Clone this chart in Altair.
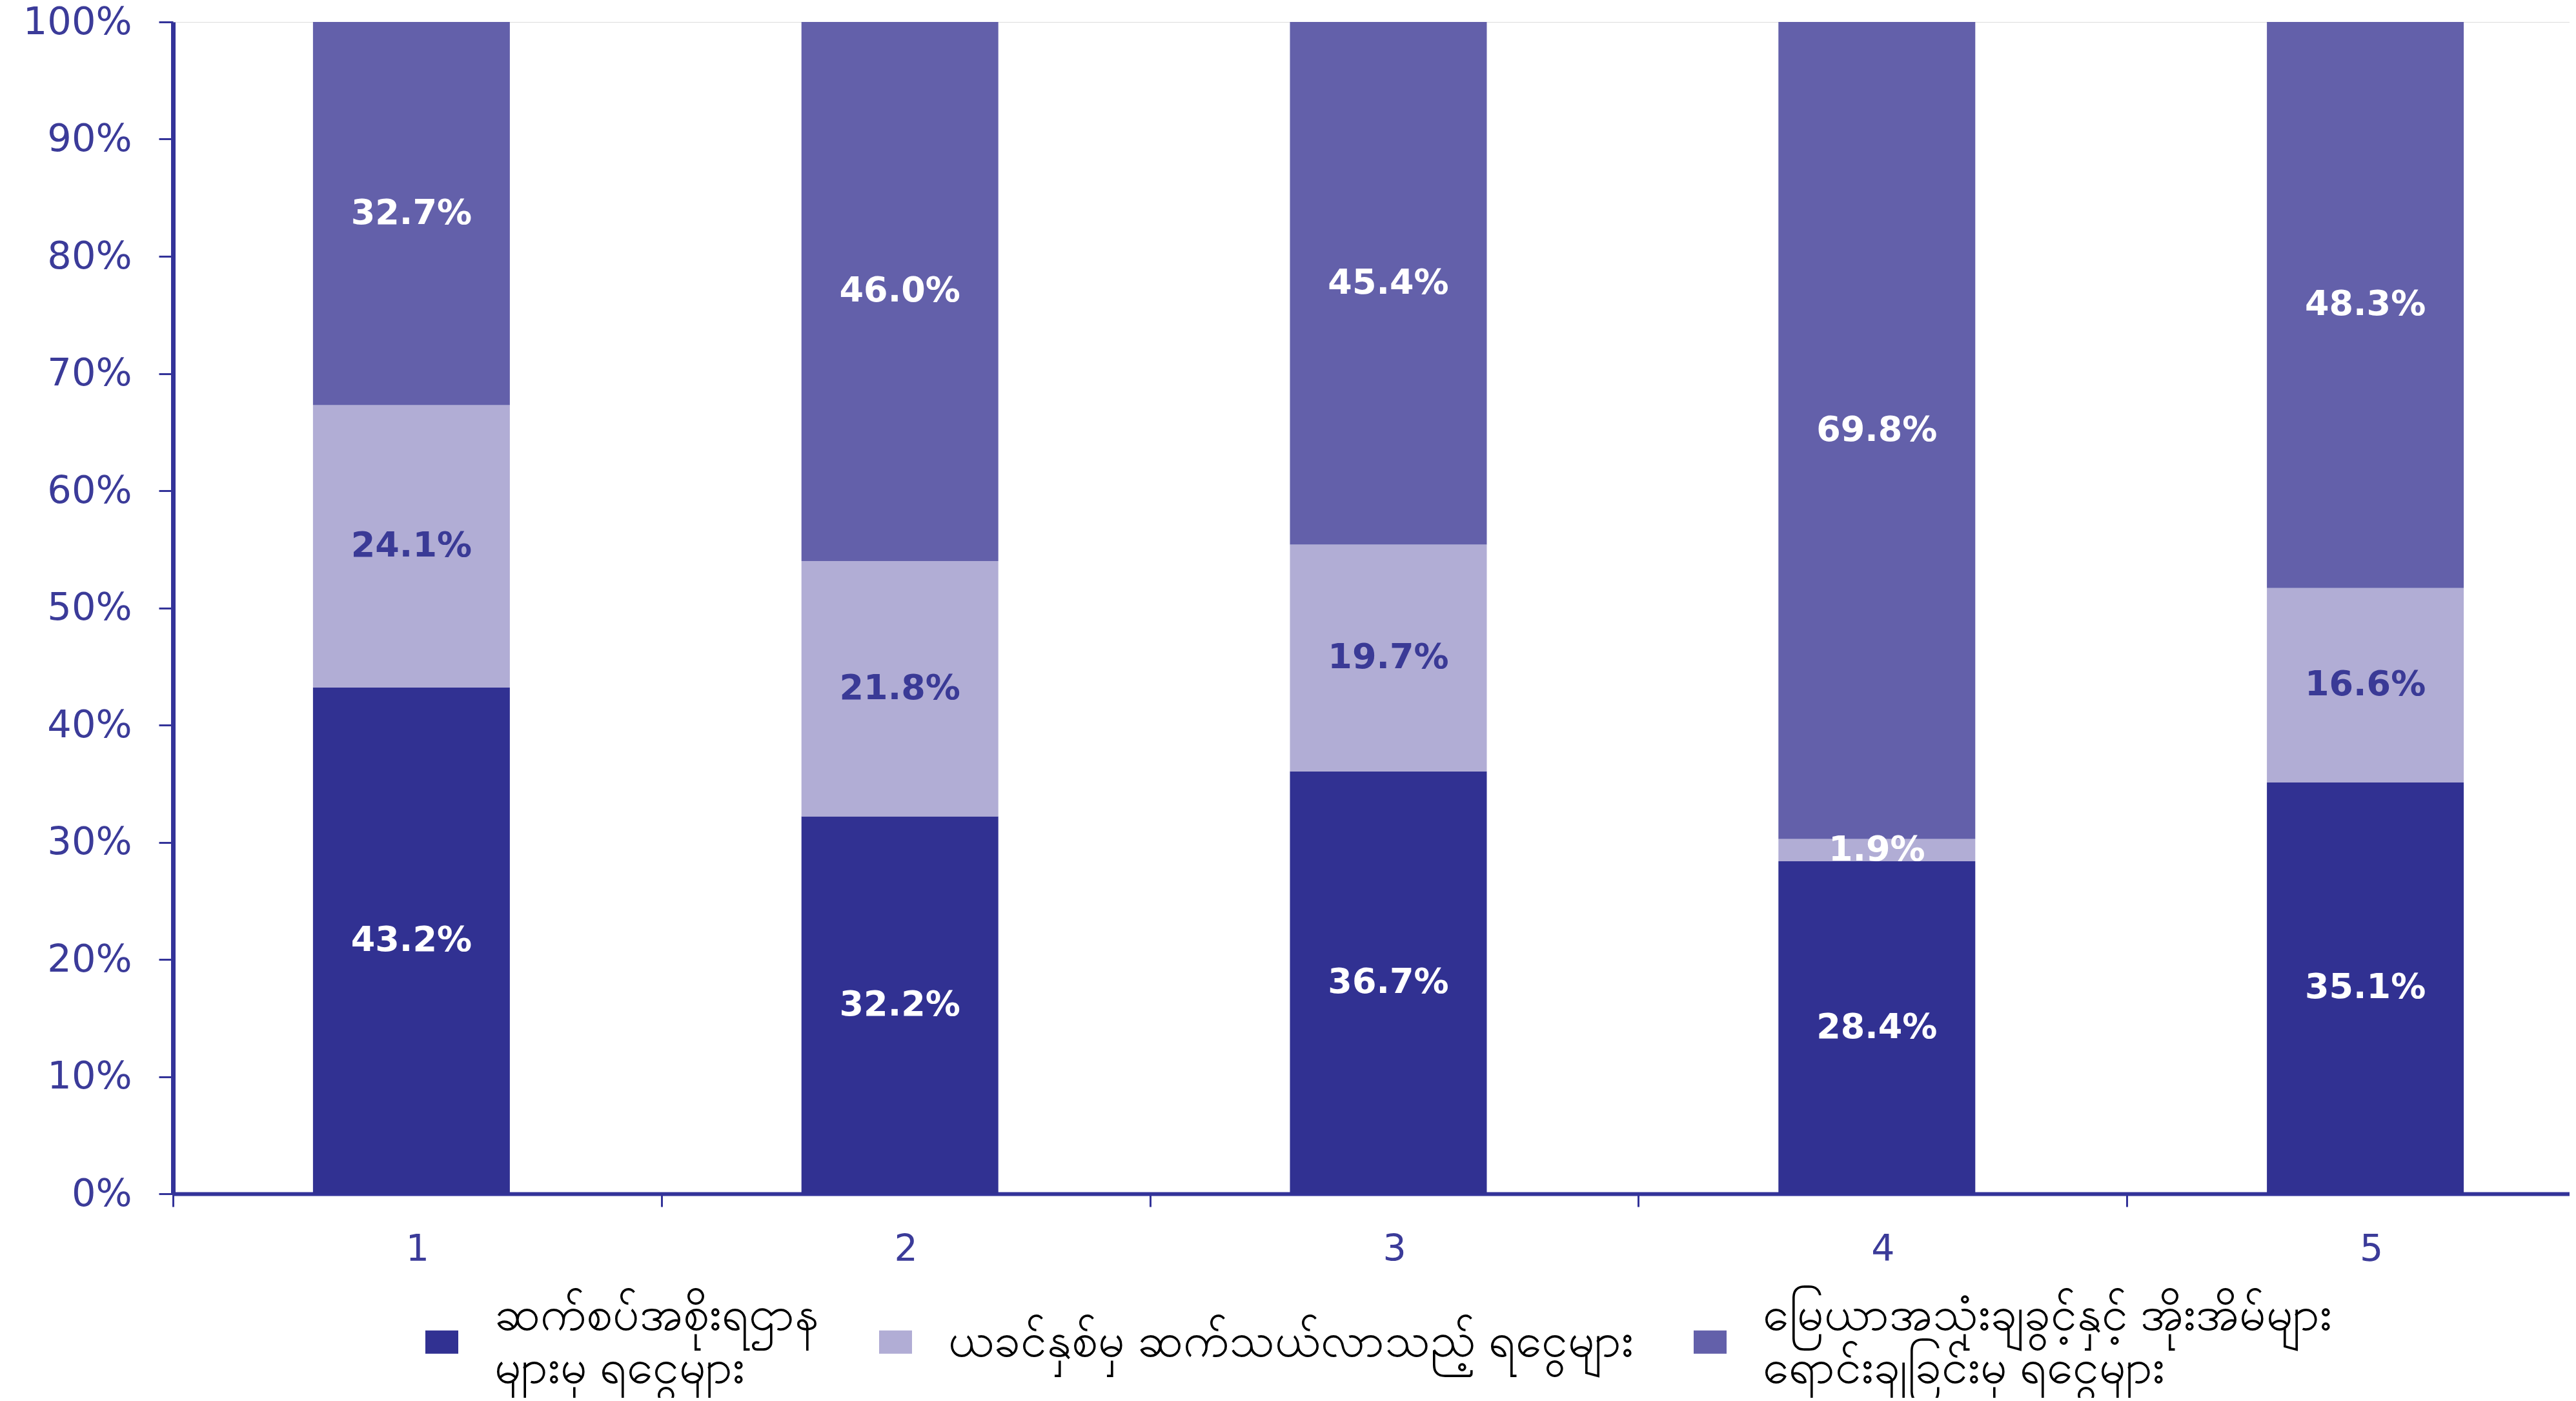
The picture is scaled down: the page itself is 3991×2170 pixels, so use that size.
import altair as alt
import pandas as pd

categories = ["1", "2", "3", "4", "5"]
series_names = [
    "ဆက်စပ်အစိုးရဌာန\nများမှ ရငွေများ",
    "ယခင်နှစ်မှ ဆက်သယ်လာသည့် ရငွေများ",
    "မြေယာအသုံးချခွင့်နှင့် အိုးအိမ်များ\nရောင်းချခြင်းမှ ရငွေများ",
]
govt_dept = [43.2, 32.2, 36.7, 28.4, 35.1]
carried_over = [24.1, 21.8, 19.7, 1.9, 16.6]
land_sales = [32.7, 46.0, 45.4, 69.8, 48.3]
colors = ["#313192", "#B1ADD5", "#6360AA"]

rows = []
series_vals = [govt_dept, carried_over, land_sales]
for ci, cat in enumerate(categories):
    total = sum(s[ci] for s in series_vals)
    cum = 0.0
    for si, s in enumerate(series_vals):
        v = s[ci]
        start = cum / total
        cum += v
        end = cum / total
        rows.append({
            "cat": cat,
            "series": series_names[si],
            "idx": si,
            "value": v,
            "mid": (start + end) / 2,
            "label": f"{v:.1f}%",
        })
df = pd.DataFrame(rows)

x_enc = alt.X(
    "cat:N",
    sort=categories,
    title=None,
    scale=alt.Scale(range=[0, 3784], paddingInner=0, paddingOuter=0),
    axis=alt.Axis(
        tickBand="extent",
        labelAngle=0,
        labelFont="DejaVu Sans",
        labelFontSize=57,
        labelColor="#3B3B99",
        labelPadding=38,
        tickSize=20,
        tickWidth=3,
        tickColor="#333399",
        domainColor="#333399",
        domainWidth=6,
    ),
)

# blank filler line (Braille blank, not stripped by trim)
BL = "\u2800"
label_expr = (
    "length(split(datum.label, '\\n')) > 1 ? "
    f"[split(datum.label, '\\n')[0], '{BL}', split(datum.label, '\\n')[1]] : "
    f"['{BL}', datum.label, '{BL}']"
)

bars = alt.Chart(df).mark_bar(width=alt.RelativeBandSize(0.403), xOffset=-9).encode(
    x=x_enc,
    y=alt.Y(
        "value:Q",
        stack="normalize",
        title=None,
        scale=alt.Scale(domain=[0, 1]),
        axis=alt.Axis(
            values=[i / 10 for i in range(11)],
            format=".0%",
            labelFont="DejaVu Sans",
            labelFontSize=59,
            labelColor="#3B3B99",
            labelPadding=42,
            tickSize=22,
            tickWidth=3,
            tickColor="#333399",
            domainColor="#333399",
            domainWidth=7,
            grid=False,
        ),
    ),
    color=alt.Color(
        "series:N",
        sort=series_names,
        scale=alt.Scale(domain=series_names, range=colors),
        legend=alt.Legend(
            title=None,
            orient="none",
            legendX=380,
            legendY=1967,
            direction="horizontal",
            columns=3,
            columnPadding=82,
            symbolType="M-1,0.902H1V2.314H-1Z",
            symbolSize=2601,
            symbolStrokeWidth=0,
            symbolOpacity=1,
            labelFont="Noto Sans",
            labelFontSize=73,
            labelColor="#000000",
            labelLimit=2000,
            labelOffset=45,
            labelExpr=label_expr,
            labelBaseline="middle",
            padding=0,
        ),
    ),
    order=alt.Order("idx:Q", sort="ascending"),
)

texts = alt.Chart(df).mark_text(
    font="DejaVu Sans", fontSize=54, fontWeight="bold", xOffset=-9
).encode(
    x=alt.X("cat:N", sort=categories),
    y=alt.Y("mid:Q"),
    text="label:N",
    color=alt.condition(
        (alt.datum.idx == 1) & (alt.datum.value >= 5),
        alt.value("#3A3A96"),
        alt.value("#FFFFFF"),
    ),
)

chart = alt.layer(bars, texts).properties(
    width=3713,
    height=1815,
    autosize=alt.AutoSizeParams(type="none"),
    padding={"left": 260, "top": 26, "right": 0, "bottom": 316},
).configure_view(stroke=None).configure(
    style={"guide-label": alt.MarkConfig(lineHeight=41)}
)

chart.save("out.html", embed_options={"renderer": "svg", "actions": False})
